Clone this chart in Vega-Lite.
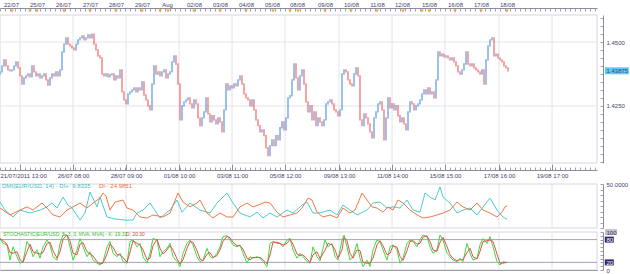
{
"$schema":"https://vega.github.io/schema/vega-lite/v6.json",
"width":597,"height":255,
"autosize":{"type":"none"},
"padding":{"left":0,"top":15,"right":33,"bottom":4},
"background":"#ffffff",
"config":{"view":{"stroke":null},"axis":{"labelFont":"Liberation Sans","labelFontSize":6,"labelColor":"#44446e","domainColor":"#8c8c9c","tickColor":"#a0a0ac","grid":false,"labelOverlap":false,"labelFlush":false,"labelBound":false},"text":{"font":"Liberation Sans"}},
"datasets":{
"price":[
{"t":0,"o":1.4375,"c":1.4383},{"t":2,"o":1.4383,"c":1.4407},{"t":4,"o":1.4407,"c":1.4430},{"t":6,"o":1.4430,"c":1.4407},{"t":8,"o":1.4407,"c":1.4391},{"t":10,"o":1.4391,"c":1.4387},{"t":12,"o":1.4387,"c":1.4391},{"t":14,"o":1.4391,"c":1.4407},{"t":16,"o":1.4407,"c":1.4422},{"t":18,"o":1.4422,"c":1.4399},
{"t":20,"o":1.4399,"c":1.4368},{"t":22,"o":1.4368,"c":1.4336},{"t":24,"o":1.4336,"c":1.4360},{"t":26,"o":1.4360,"c":1.4368},{"t":28,"o":1.4368,"c":1.4375},{"t":30,"o":1.4375,"c":1.4364},{"t":32,"o":1.4364,"c":1.4407},{"t":34,"o":1.4407,"c":1.4383},{"t":36,"o":1.4383,"c":1.4368},{"t":38,"o":1.4368,"c":1.4375},
{"t":40,"o":1.4375,"c":1.4360},{"t":42,"o":1.4360,"c":1.4368},{"t":44,"o":1.4368,"c":1.4375},{"t":46,"o":1.4375,"c":1.4352},{"t":48,"o":1.4352,"c":1.4332},{"t":50,"o":1.4332,"c":1.4360},{"t":52,"o":1.4360,"c":1.4375},{"t":54,"o":1.4375,"c":1.4368},{"t":56,"o":1.4368,"c":1.4383},{"t":58,"o":1.4383,"c":1.4368},
{"t":60,"o":1.4368,"c":1.4391},{"t":62,"o":1.4391,"c":1.4461},{"t":64,"o":1.4461,"c":1.4492},{"t":66,"o":1.4492,"c":1.4516},{"t":68,"o":1.4516,"c":1.4492},{"t":70,"o":1.4492,"c":1.4485},{"t":72,"o":1.4485,"c":1.4477},{"t":74,"o":1.4477,"c":1.4469},{"t":76,"o":1.4469,"c":1.4492},{"t":78,"o":1.4492,"c":1.4508},
{"t":80,"o":1.4508,"c":1.4516},{"t":82,"o":1.4516,"c":1.4524},{"t":84,"o":1.4524,"c":1.4508},{"t":86,"o":1.4508,"c":1.4516},{"t":88,"o":1.4516,"c":1.4528},{"t":90,"o":1.4528,"c":1.4516},{"t":92,"o":1.4516,"c":1.4531},{"t":94,"o":1.4531,"c":1.4492},{"t":96,"o":1.4492,"c":1.4469},{"t":98,"o":1.4469,"c":1.4446},
{"t":100,"o":1.4446,"c":1.4438},{"t":102,"o":1.4438,"c":1.4375},{"t":104,"o":1.4375,"c":1.4368},{"t":106,"o":1.4368,"c":1.4375},{"t":108,"o":1.4375,"c":1.4364},{"t":110,"o":1.4364,"c":1.4372},{"t":112,"o":1.4372,"c":1.4375},{"t":114,"o":1.4375,"c":1.4352},{"t":116,"o":1.4352,"c":1.4368},{"t":118,"o":1.4368,"c":1.4360},
{"t":120,"o":1.4360,"c":1.4391},{"t":122,"o":1.4391,"c":1.4305},{"t":124,"o":1.4305,"c":1.4274},{"t":126,"o":1.4274,"c":1.4258},{"t":128,"o":1.4258,"c":1.4297},{"t":130,"o":1.4297,"c":1.4305},{"t":132,"o":1.4305,"c":1.4313},{"t":134,"o":1.4313,"c":1.4321},{"t":136,"o":1.4321,"c":1.4305},{"t":138,"o":1.4305,"c":1.4321},
{"t":140,"o":1.4321,"c":1.4313},{"t":142,"o":1.4313,"c":1.4344},{"t":144,"o":1.4344,"c":1.4293},{"t":146,"o":1.4293,"c":1.4274},{"t":148,"o":1.4274,"c":1.4251},{"t":150,"o":1.4251,"c":1.4235},{"t":152,"o":1.4235,"c":1.4336},{"t":154,"o":1.4336,"c":1.4407},{"t":156,"o":1.4407,"c":1.4375},{"t":158,"o":1.4375,"c":1.4383},
{"t":160,"o":1.4383,"c":1.4368},{"t":162,"o":1.4368,"c":1.4383},{"t":164,"o":1.4383,"c":1.4391},{"t":166,"o":1.4391,"c":1.4360},{"t":168,"o":1.4360,"c":1.4375},{"t":170,"o":1.4375,"c":1.4383},{"t":172,"o":1.4383,"c":1.4422},{"t":174,"o":1.4422,"c":1.4446},{"t":176,"o":1.4446,"c":1.4414},{"t":178,"o":1.4414,"c":1.4336},
{"t":180,"o":1.4336,"c":1.4196},{"t":182,"o":1.4196,"c":1.4251},{"t":184,"o":1.4251,"c":1.4266},{"t":186,"o":1.4266,"c":1.4274},{"t":188,"o":1.4274,"c":1.4282},{"t":190,"o":1.4282,"c":1.4258},{"t":192,"o":1.4258,"c":1.4243},{"t":194,"o":1.4243,"c":1.4274},{"t":196,"o":1.4274,"c":1.4258},{"t":198,"o":1.4258,"c":1.4204},
{"t":200,"o":1.4204,"c":1.4173},{"t":202,"o":1.4173,"c":1.4204},{"t":204,"o":1.4204,"c":1.4227},{"t":206,"o":1.4227,"c":1.4282},{"t":208,"o":1.4282,"c":1.4219},{"t":210,"o":1.4219,"c":1.4188},{"t":212,"o":1.4188,"c":1.4212},{"t":214,"o":1.4212,"c":1.4196},{"t":216,"o":1.4196,"c":1.4180},{"t":218,"o":1.4180,"c":1.4204},
{"t":220,"o":1.4204,"c":1.4188},{"t":222,"o":1.4188,"c":1.4149},{"t":224,"o":1.4149,"c":1.4235},{"t":226,"o":1.4235,"c":1.4336},{"t":228,"o":1.4336,"c":1.4313},{"t":230,"o":1.4313,"c":1.4329},{"t":232,"o":1.4329,"c":1.4321},{"t":234,"o":1.4321,"c":1.4336},{"t":236,"o":1.4336,"c":1.4329},{"t":238,"o":1.4329,"c":1.4352},
{"t":240,"o":1.4352,"c":1.4368},{"t":242,"o":1.4368,"c":1.4336},{"t":244,"o":1.4336,"c":1.4297},{"t":246,"o":1.4297,"c":1.4282},{"t":248,"o":1.4282,"c":1.4274},{"t":250,"o":1.4274,"c":1.4251},{"t":252,"o":1.4251,"c":1.4274},{"t":254,"o":1.4274,"c":1.4235},{"t":256,"o":1.4235,"c":1.4196},{"t":258,"o":1.4196,"c":1.4173},
{"t":260,"o":1.4173,"c":1.4149},{"t":262,"o":1.4149,"c":1.4157},{"t":264,"o":1.4157,"c":1.4134},{"t":266,"o":1.4134,"c":1.4087},{"t":268,"o":1.4087,"c":1.4056},{"t":270,"o":1.4056,"c":1.4095},{"t":272,"o":1.4095,"c":1.4118},{"t":274,"o":1.4118,"c":1.4095},{"t":276,"o":1.4095,"c":1.4134},{"t":278,"o":1.4134,"c":1.4118},
{"t":280,"o":1.4118,"c":1.4165},{"t":282,"o":1.4165,"c":1.4188},{"t":284,"o":1.4188,"c":1.4157},{"t":286,"o":1.4157,"c":1.4204},{"t":288,"o":1.4204,"c":1.4282},{"t":290,"o":1.4282,"c":1.4290},{"t":292,"o":1.4290,"c":1.4352},{"t":294,"o":1.4352,"c":1.4414},{"t":296,"o":1.4414,"c":1.4360},{"t":298,"o":1.4360,"c":1.4313},
{"t":300,"o":1.4313,"c":1.4368},{"t":302,"o":1.4368,"c":1.4391},{"t":304,"o":1.4391,"c":1.4336},{"t":306,"o":1.4336,"c":1.4266},{"t":308,"o":1.4266,"c":1.4227},{"t":310,"o":1.4227,"c":1.4251},{"t":312,"o":1.4251,"c":1.4196},{"t":314,"o":1.4196,"c":1.4227},{"t":316,"o":1.4227,"c":1.4173},{"t":318,"o":1.4173,"c":1.4204},
{"t":320,"o":1.4204,"c":1.4188},{"t":322,"o":1.4188,"c":1.4173},{"t":324,"o":1.4173,"c":1.4196},{"t":326,"o":1.4196,"c":1.4258},{"t":328,"o":1.4258,"c":1.4266},{"t":330,"o":1.4266,"c":1.4274},{"t":332,"o":1.4274,"c":1.4258},{"t":334,"o":1.4258,"c":1.4235},{"t":336,"o":1.4235,"c":1.4227},{"t":338,"o":1.4227,"c":1.4212},
{"t":340,"o":1.4212,"c":1.4235},{"t":342,"o":1.4235,"c":1.4375},{"t":344,"o":1.4375,"c":1.4391},{"t":346,"o":1.4391,"c":1.4383},{"t":348,"o":1.4383,"c":1.4352},{"t":350,"o":1.4352,"c":1.4336},{"t":352,"o":1.4336,"c":1.4329},{"t":354,"o":1.4329,"c":1.4375},{"t":356,"o":1.4375,"c":1.4399},{"t":358,"o":1.4399,"c":1.4368},
{"t":360,"o":1.4368,"c":1.4196},{"t":362,"o":1.4196,"c":1.4173},{"t":364,"o":1.4173,"c":1.4219},{"t":366,"o":1.4219,"c":1.4204},{"t":368,"o":1.4204,"c":1.4180},{"t":370,"o":1.4180,"c":1.4149},{"t":372,"o":1.4149,"c":1.4126},{"t":374,"o":1.4126,"c":1.4204},{"t":376,"o":1.4204,"c":1.4227},{"t":378,"o":1.4227,"c":1.4258},
{"t":380,"o":1.4258,"c":1.4266},{"t":382,"o":1.4266,"c":1.4235},{"t":384,"o":1.4235,"c":1.4118},{"t":386,"o":1.4118,"c":1.4204},{"t":388,"o":1.4204,"c":1.4282},{"t":390,"o":1.4282,"c":1.4243},{"t":392,"o":1.4243,"c":1.4258},{"t":394,"o":1.4258,"c":1.4235},{"t":396,"o":1.4235,"c":1.4251},{"t":398,"o":1.4251,"c":1.4212},
{"t":400,"o":1.4212,"c":1.4188},{"t":402,"o":1.4188,"c":1.4204},{"t":404,"o":1.4204,"c":1.4180},{"t":406,"o":1.4180,"c":1.4157},{"t":408,"o":1.4157,"c":1.4227},{"t":410,"o":1.4227,"c":1.4266},{"t":412,"o":1.4266,"c":1.4258},{"t":414,"o":1.4258,"c":1.4235},{"t":416,"o":1.4235,"c":1.4251},{"t":418,"o":1.4251,"c":1.4258},
{"t":420,"o":1.4258,"c":1.4274},{"t":422,"o":1.4274,"c":1.4297},{"t":424,"o":1.4297,"c":1.4313},{"t":426,"o":1.4313,"c":1.4297},{"t":428,"o":1.4297,"c":1.4321},{"t":430,"o":1.4321,"c":1.4297},{"t":432,"o":1.4297,"c":1.4305},{"t":434,"o":1.4305,"c":1.4282},{"t":436,"o":1.4282,"c":1.4352},{"t":438,"o":1.4352,"c":1.4461},
{"t":440,"o":1.4461,"c":1.4446},{"t":442,"o":1.4446,"c":1.4453},{"t":444,"o":1.4453,"c":1.4442},{"t":446,"o":1.4442,"c":1.4446},{"t":448,"o":1.4446,"c":1.4438},{"t":450,"o":1.4438,"c":1.4430},{"t":452,"o":1.4430,"c":1.4438},{"t":454,"o":1.4438,"c":1.4422},{"t":456,"o":1.4422,"c":1.4407},{"t":458,"o":1.4407,"c":1.4383},
{"t":460,"o":1.4383,"c":1.4375},{"t":462,"o":1.4375,"c":1.4391},{"t":464,"o":1.4391,"c":1.4414},{"t":466,"o":1.4414,"c":1.4461},{"t":468,"o":1.4461,"c":1.4414},{"t":470,"o":1.4414,"c":1.4407},{"t":472,"o":1.4407,"c":1.4414},{"t":474,"o":1.4414,"c":1.4399},{"t":476,"o":1.4399,"c":1.4391},{"t":478,"o":1.4391,"c":1.4383},
{"t":480,"o":1.4383,"c":1.4375},{"t":482,"o":1.4375,"c":1.4391},{"t":484,"o":1.4391,"c":1.4336},{"t":486,"o":1.4336,"c":1.4430},{"t":488,"o":1.4430,"c":1.4485},{"t":490,"o":1.4485,"c":1.4508},{"t":492,"o":1.4508,"c":1.4516},{"t":494,"o":1.4516,"c":1.4446},{"t":496,"o":1.4446,"c":1.4453},{"t":498,"o":1.4453,"c":1.4438},
{"t":500,"o":1.4438,"c":1.4430},{"t":502,"o":1.4430,"c":1.4422},{"t":504,"o":1.4422,"c":1.4407},{"t":506,"o":1.4407,"c":1.4399},{"t":508,"o":1.4399,"c":1.43875}
],
"grid":[{"t":20},{"t":73},{"t":126},{"t":179},{"t":232},{"t":285},{"t":339},{"t":392},{"t":445},{"t":499},{"t":552}],
"days":[{"t":12},{"t":30},{"t":37},{"t":64},{"t":90},{"t":116},{"t":142},{"t":160},{"t":168},{"t":194},{"t":220},{"t":246},{"t":273},{"t":290},{"t":298},{"t":325},{"t":351},{"t":377},{"t":403},{"t":422},{"t":429},{"t":455},{"t":481},{"t":507}],
"dip":[{"t":0,"v":29.5},{"t":5,"v":20.4},{"t":13,"v":12.5},{"t":20,"v":20.4},{"t":30,"v":17},{"t":40,"v":20.4},{"t":47,"v":24},{"t":52,"v":28.4},{"t":57,"v":22.7},{"t":63,"v":35.2},{"t":68,"v":26},{"t":72,"v":22.7},{"t":80,"v":9},{"t":85,"v":17},{"t":90,"v":40.9},{"t":97,"v":24},{"t":100,"v":35.2},{"t":107,"v":12.5},{"t":115,"v":10.2},{"t":125,"v":9},{"t":133,"v":9},{"t":137,"v":17},{"t":143,"v":20.4},{"t":150,"v":28.4},{"t":160,"v":11.4},{"t":170,"v":20.4},{"t":177,"v":31.8},{"t":182,"v":18},{"t":190,"v":28.4},{"t":200,"v":20.4},{"t":210,"v":17},{"t":217,"v":28.4},{"t":227,"v":39.8},{"t":233,"v":28.4},{"t":240,"v":17},{"t":250,"v":12.5},{"t":257,"v":18},{"t":263,"v":11.4},{"t":270,"v":17},{"t":277,"v":12.5},{"t":287,"v":20.4},{"t":293,"v":17},{"t":302,"v":26},{"t":307,"v":29.5},{"t":313,"v":17},{"t":317,"v":17},{"t":323,"v":18},{"t":330,"v":20.4},{"t":337,"v":14.8},{"t":343,"v":26},{"t":350,"v":20.4},{"t":357,"v":14.8},{"t":367,"v":20.4},{"t":373,"v":28.4},{"t":380,"v":29.5},{"t":387,"v":22.7},{"t":393,"v":24},{"t":400,"v":22.7},{"t":407,"v":31.8},{"t":413,"v":20.4},{"t":420,"v":18},{"t":425,"v":39.8},{"t":430,"v":35.2},{"t":435,"v":31.8},{"t":440,"v":46.6},{"t":443,"v":35.2},{"t":450,"v":28.4},{"t":457,"v":17},{"t":463,"v":20.4},{"t":470,"v":22.7},{"t":477,"v":14.8},{"t":483,"v":24},{"t":490,"v":34},{"t":497,"v":20.4},{"t":503,"v":12.5},{"t":507,"v":9.8}],
"dim":[{"t":0,"v":22.7},{"t":10,"v":14.8},{"t":20,"v":20.4},{"t":27,"v":24},{"t":33,"v":20.4},{"t":42,"v":28.4},{"t":47,"v":22.7},{"t":53,"v":14.8},{"t":60,"v":12.5},{"t":67,"v":20.4},{"t":73,"v":24},{"t":80,"v":28.4},{"t":87,"v":22.7},{"t":93,"v":28.4},{"t":100,"v":34},{"t":103,"v":39.8},{"t":106,"v":36.4},{"t":110,"v":20.4},{"t":115,"v":29.5},{"t":123,"v":31.8},{"t":127,"v":22.7},{"t":133,"v":20.4},{"t":140,"v":12.5},{"t":147,"v":11.4},{"t":153,"v":14.8},{"t":163,"v":12.5},{"t":170,"v":17},{"t":178,"v":39.8},{"t":183,"v":29.5},{"t":190,"v":24},{"t":197,"v":28.4},{"t":200,"v":31.8},{"t":207,"v":17},{"t":213,"v":11.4},{"t":220,"v":17},{"t":227,"v":12.5},{"t":233,"v":12.5},{"t":240,"v":24},{"t":247,"v":28.4},{"t":253,"v":24},{"t":258,"v":26},{"t":265,"v":29.5},{"t":270,"v":28.4},{"t":277,"v":18},{"t":283,"v":12.5},{"t":290,"v":14.8},{"t":297,"v":17},{"t":302,"v":22.7},{"t":308,"v":34},{"t":312,"v":31.8},{"t":317,"v":18},{"t":323,"v":12.5},{"t":330,"v":14.8},{"t":337,"v":11.4},{"t":343,"v":22.7},{"t":350,"v":17},{"t":355,"v":20.4},{"t":360,"v":34},{"t":362,"v":39.8},{"t":367,"v":31.8},{"t":372,"v":24},{"t":377,"v":22.7},{"t":383,"v":18},{"t":388,"v":24},{"t":393,"v":20.4},{"t":398,"v":31.8},{"t":403,"v":28.4},{"t":410,"v":20.4},{"t":417,"v":14.8},{"t":423,"v":11.4},{"t":430,"v":12.5},{"t":437,"v":14.8},{"t":443,"v":17},{"t":450,"v":20.4},{"t":457,"v":29.5},{"t":463,"v":24},{"t":470,"v":20.4},{"t":477,"v":28.4},{"t":483,"v":20.4},{"t":490,"v":17},{"t":497,"v":12.5},{"t":502,"v":18},{"t":505,"v":24},{"t":507,"v":25}],
"stoch":[{"t":0,"k":83,"d":83},{"t":3,"k":70,"d":77},{"t":7,"k":66,"d":68},{"t":10,"k":26,"d":46},{"t":13,"k":61,"d":44},{"t":17,"k":35,"d":48},{"t":20,"k":18,"d":27},{"t":23,"k":22,"d":20},{"t":27,"k":75,"d":49},{"t":30,"k":61,"d":68},{"t":33,"k":35,"d":48},{"t":37,"k":53,"d":44},{"t":40,"k":31,"d":42},{"t":43,"k":61,"d":46},{"t":47,"k":79,"d":70},{"t":50,"k":66,"d":73},{"t":53,"k":35,"d":51},{"t":57,"k":26,"d":31},{"t":60,"k":70,"d":48},{"t":63,"k":92,"d":81},{"t":67,"k":92,"d":92},{"t":70,"k":61,"d":77},{"t":73,"k":26,"d":44},{"t":77,"k":53,"d":40},{"t":80,"k":83,"d":68},{"t":83,"k":61,"d":72},{"t":87,"k":35,"d":48},{"t":90,"k":48,"d":42},{"t":93,"k":26,"d":37},{"t":97,"k":18,"d":22},{"t":100,"k":13,"d":16},{"t":103,"k":22,"d":18},{"t":107,"k":61,"d":42},{"t":110,"k":75,"d":68},{"t":113,"k":44,"d":60},{"t":117,"k":35,"d":40},{"t":120,"k":44,"d":40},{"t":123,"k":22,"d":33},{"t":127,"k":18,"d":20},{"t":130,"k":75,"d":47},{"t":133,"k":79,"d":77},{"t":137,"k":61,"d":70},{"t":140,"k":70,"d":66},{"t":143,"k":35,"d":53},{"t":147,"k":18,"d":27},{"t":150,"k":44,"d":31},{"t":153,"k":83,"d":64},{"t":157,"k":79,"d":81},{"t":160,"k":35,"d":57},{"t":163,"k":48,"d":42},{"t":167,"k":57,"d":53},{"t":170,"k":70,"d":64},{"t":173,"k":35,"d":53},{"t":177,"k":22,"d":29},{"t":180,"k":9,"d":16},{"t":183,"k":44,"d":27},{"t":187,"k":70,"d":57},{"t":190,"k":79,"d":75},{"t":193,"k":66,"d":73},{"t":197,"k":35,"d":51},{"t":200,"k":22,"d":29},{"t":203,"k":26,"d":24},{"t":207,"k":57,"d":42},{"t":210,"k":35,"d":46},{"t":213,"k":31,"d":33},{"t":217,"k":44,"d":38},{"t":220,"k":61,"d":53},{"t":223,"k":88,"d":75},{"t":227,"k":90,"d":89},{"t":230,"k":79,"d":85},{"t":233,"k":66,"d":73},{"t":237,"k":61,"d":64},{"t":240,"k":66,"d":64},{"t":243,"k":44,"d":55},{"t":247,"k":18,"d":31},{"t":250,"k":35,"d":27},{"t":253,"k":31,"d":33},{"t":257,"k":35,"d":33},{"t":260,"k":31,"d":33},{"t":263,"k":22,"d":27},{"t":267,"k":9,"d":16},{"t":270,"k":70,"d":40},{"t":273,"k":75,"d":73},{"t":277,"k":70,"d":73},{"t":280,"k":70,"d":70},{"t":283,"k":61,"d":66},{"t":287,"k":79,"d":70},{"t":290,"k":83,"d":81},{"t":293,"k":53,"d":68},{"t":297,"k":31,"d":42},{"t":300,"k":44,"d":38},{"t":303,"k":35,"d":40},{"t":307,"k":22,"d":29},{"t":310,"k":18,"d":20},{"t":313,"k":61,"d":40},{"t":317,"k":35,"d":48},{"t":320,"k":24,"d":30},{"t":325,"k":79,"d":52},{"t":328,"k":61,"d":70},{"t":332,"k":70,"d":66},{"t":335,"k":35,"d":53},{"t":338,"k":26,"d":31},{"t":342,"k":79,"d":53},{"t":344,"k":92,"d":86},{"t":347,"k":61,"d":77},{"t":350,"k":26,"d":44},{"t":353,"k":35,"d":31},{"t":357,"k":70,"d":53},{"t":360,"k":31,"d":51},{"t":363,"k":9,"d":20},{"t":367,"k":26,"d":18},{"t":370,"k":9,"d":18},{"t":373,"k":53,"d":31},{"t":377,"k":79,"d":66},{"t":380,"k":75,"d":77},{"t":383,"k":53,"d":64},{"t":387,"k":26,"d":40},{"t":390,"k":61,"d":44},{"t":393,"k":66,"d":64},{"t":397,"k":53,"d":60},{"t":400,"k":18,"d":36},{"t":403,"k":31,"d":25},{"t":407,"k":70,"d":51},{"t":410,"k":79,"d":75},{"t":413,"k":75,"d":77},{"t":417,"k":61,"d":68},{"t":420,"k":79,"d":70},{"t":423,"k":92,"d":86},{"t":427,"k":88,"d":90},{"t":430,"k":61,"d":75},{"t":433,"k":44,"d":53},{"t":437,"k":53,"d":49},{"t":440,"k":92,"d":73},{"t":443,"k":79,"d":86},{"t":447,"k":44,"d":62},{"t":450,"k":35,"d":40},{"t":453,"k":26,"d":31},{"t":457,"k":22,"d":24},{"t":460,"k":31,"d":27},{"t":463,"k":22,"d":27},{"t":467,"k":70,"d":46},{"t":470,"k":44,"d":57},{"t":473,"k":26,"d":35},{"t":477,"k":31,"d":29},{"t":480,"k":66,"d":49},{"t":483,"k":83,"d":75},{"t":487,"k":70,"d":77},{"t":490,"k":88,"d":79},{"t":493,"k":61,"d":75},{"t":497,"k":22,"d":42},{"t":500,"k":13,"d":18},{"t":503,"k":22,"d":18},{"t":507,"k":19.31,"d":20.3}]
},
"layer":[
{"data":{"values":[{"panel":"price"}]},"mark":{"type":"rect","fill":"#ffffff","stroke":"#d6d6de","strokeWidth":1},
 "encoding":{"x":{"datum":0,"type":"quantitative","scale":{"domain":[0,597],"nice":false,"zero":false},"axis":null},"x2":{"datum":597},
 "y":{"datum":1.402734,"type":"quantitative","scale":{"domain":[1.402734,1.460547],"range":[148,0],"nice":false,"zero":false},"axis":null},"y2":{"datum":1.460547}}},
{"data":{"name":"grid"},"mark":{"type":"rule","color":"#e4e4ec","strokeWidth":1},
 "encoding":{"x":{"field":"t","type":"quantitative","scale":{"domain":[0,597],"nice":false,"zero":false},
  "axis":{"orient":"bottom","offset":-100,"values":[20,73,126,179,232,285,339,392,445,499,552],"ticks":false,"domain":false,"labelPadding":2,"title":null,
   "labelExpr":"['21/07/2011 13:00','26/07 08:00','28/07 09:00','01/08 10:00','03/08 11:00','05/08 12:00','09/08 13:00','11/08 14:00','15/08 15:00','17/08 16:00','19/08 17:00'][indexof([20,73,126,179,232,285,339,392,445,499,552], datum.value)]",
   "labelAlign":{"condition":{"test":"datum.value == 20","value":"left"},"value":"center"},
   "labelOffset":{"condition":{"test":"datum.value == 20","value":-20},"value":0}}},
 "y":{"datum":1.402734,"type":"quantitative","scale":{"domain":[1.402734,1.460547],"range":[148,0],"nice":false,"zero":false},"axis":null},"y2":{"datum":1.460547}}},
{"data":{"values":[{"v":1.425},{"v":1.45}]},"mark":{"type":"rule","color":"#e4e4ec","strokeWidth":1},
 "encoding":{"x":{"datum":0,"type":"quantitative","scale":{"domain":[0,597],"nice":false,"zero":false},"axis":null},"x2":{"datum":597},
 "y":{"field":"v","type":"quantitative","scale":{"domain":[1.402734,1.460547],"range":[148,0],"nice":false,"zero":false},
  "axis":{"orient":"right","offset":6,"values":[1.425,1.43875,1.45],"ticks":false,"domain":true,"labelPadding":3,"zindex":1,"title":null,"labelBaseline":"middle",
   "labelExpr":"datum.value == 1.425 ? '1.4250' : datum.value == 1.45 ? '1.4500' : '1.43875'"}}}},
{"data":{"name":"price"},"mark":{"type":"rule","strokeWidth":1.3,"strokeCap":"square","opacity":0.95},
 "encoding":{"x":{"field":"t","type":"quantitative","scale":{"domain":[0,597],"nice":false,"zero":false},
  "axis":{"orient":"top","offset":7,"tickCount":120,"labels":false,"domain":true,"tickSize":-3,"title":null}},
 "y":{"field":"o","type":"quantitative","scale":{"domain":[1.402734,1.460547],"range":[148,0],"nice":false,"zero":false},
  "axis":{"orient":"right","offset":6,"values":[1.403125,1.40625,1.409375,1.4125,1.415625,1.41875,1.421875,1.425,1.428125,1.43125,1.434375,1.4375,1.440625,1.44375,1.446875,1.45,1.453125,1.45625,1.459375],"labels":false,"domain":false,"tickSize":-3,"title":null}},
 "y2":{"field":"c"},
 "color":{"condition":{"test":"datum.c >= datum.o","value":"#5b9ae0"},"value":"#f06a6a"}}},
{"data":{"values":[{"v":1.43875}]},"mark":{"type":"tick","orient":"horizontal","size":24,"thickness":7,"color":"#5ccaf4","opacity":1},
 "encoding":{"x":{"datum":616.8,"type":"quantitative","scale":{"domain":[0,597],"nice":false,"zero":false},"axis":null},
 "y":{"field":"v","type":"quantitative","scale":{"domain":[1.402734,1.460547],"range":[148,0],"nice":false,"zero":false},"axis":null}}},
{"data":{"name":"days"},"mark":{"type":"point","shape":"triangle-down","filled":true,"size":14,"color":"#f2a22a","opacity":1},
 "encoding":{"x":{"field":"t","type":"quantitative","scale":{"domain":[0,597],"nice":false,"zero":false},
  "axis":{"orient":"top","offset":7,"values":[11,37,63,90,116,142,167,194,220,246,272,297,325,351,377,402,429,455,481,507],"ticks":false,"domain":false,"labelPadding":1,"title":null,
   "labelExpr":"['22/07','25/07','26/07','27/07','28/07','29/07','Aug','02/08','03/08','04/08','05/08','08/08','09/08','10/08','11/08','12/08','15/08','16/08','17/08','18/08'][indexof([11,37,63,90,116,142,167,194,220,246,272,297,325,351,377,402,429,455,481,507], datum.value)]"}},
 "y":{"datum":1.46211,"type":"quantitative","scale":{"domain":[1.402734,1.460547],"range":[148,0],"nice":false,"zero":false},"axis":null}}},
{"data":{"values":[{"panel":"dmi"}]},"mark":{"type":"rect","fill":"#ffffff","stroke":"#d6d6de","strokeWidth":1},
 "encoding":{"x":{"datum":0,"type":"quantitative","scale":{"domain":[0,597],"nice":false,"zero":false},"axis":null},"x2":{"datum":597},
 "y":{"datum":0,"type":"quantitative","scale":{"domain":[0,50],"range":[213,169],"nice":false,"zero":false},"axis":null},"y2":{"datum":50}}},
{"data":{"name":"grid"},"mark":{"type":"rule","color":"#e4e4ec","strokeWidth":1},
 "encoding":{"x":{"field":"t","type":"quantitative","scale":{"domain":[0,597],"nice":false,"zero":false},
  "axis":{"orient":"bottom","offset":-100,"tickCount":120,"labels":false,"domain":true,"tickSize":-3,"title":null}},
 "y":{"datum":0,"type":"quantitative","scale":{"domain":[0,50],"range":[213,169],"nice":false,"zero":false},"axis":null},"y2":{"datum":50}}},
{"data":{"name":"dip"},"mark":{"type":"line","color":"#4ccccc","strokeWidth":1},
 "encoding":{"x":{"field":"t","type":"quantitative","scale":{"domain":[0,597],"nice":false,"zero":false},
  "axis":{"orient":"bottom","offset":-100,"values":[20,73,126,179,232,285,339,392,445,499,552],"labels":false,"domain":false,"tickSize":-6,"tickColor":"#8c8c9c","title":null}},
 "y":{"field":"v","type":"quantitative","scale":{"domain":[0,50],"range":[213,169],"nice":false,"zero":false},
  "axis":{"orient":"right","offset":6,"values":[50],"ticks":false,"domain":true,"labelPadding":3,"labelBaseline":"middle","labelExpr":"'50.0000'","title":null}}}},
{"data":{"name":"dim"},"mark":{"type":"line","color":"#f07848","strokeWidth":1},
 "encoding":{"x":{"field":"t","type":"quantitative","scale":{"domain":[0,597],"nice":false,"zero":false},"axis":null},
 "y":{"field":"v","type":"quantitative","scale":{"domain":[0,50],"range":[213,169],"nice":false,"zero":false},
  "axis":{"orient":"right","offset":6,"values":[0,6.25,12.5,18.75,25,31.25,37.5,43.75,50],"labels":false,"domain":false,"tickSize":-3,"title":null}}}},
{"data":{"values":[{"label":"DMI(EUR/USD, 14) - DI+: 9.8335"}]},"mark":{"type":"text","align":"left","baseline":"middle","fontSize":6,"color":"#3cc0c0"},
 "encoding":{"x":{"datum":2,"type":"quantitative","scale":{"domain":[0,597],"nice":false,"zero":false},"axis":null},
 "y":{"datum":47.2,"type":"quantitative","scale":{"domain":[0,50],"range":[213,169],"nice":false,"zero":false},"axis":null},"text":{"field":"label"}}},
{"data":{"values":[{"label":"DI-: 24.9851"}]},"mark":{"type":"text","align":"left","baseline":"middle","fontSize":6,"color":"#f06a3a"},
 "encoding":{"x":{"datum":99,"type":"quantitative","scale":{"domain":[0,597],"nice":false,"zero":false},"axis":null},
 "y":{"datum":47.2,"type":"quantitative","scale":{"domain":[0,50],"range":[213,169],"nice":false,"zero":false},"axis":null},"text":{"field":"label"}}},
{"data":{"values":[{"panel":"stoch"}]},"mark":{"type":"rect","fill":"#ffffff","stroke":"#d6d6de","strokeWidth":1},
 "encoding":{"x":{"datum":0,"type":"quantitative","scale":{"domain":[0,597],"nice":false,"zero":false},"axis":null},"x2":{"datum":597},
 "y":{"datum":0,"type":"quantitative","scale":{"domain":[0,100],"range":[255,217],"nice":false,"zero":false},"axis":null},"y2":{"datum":100}}},
{"data":{"name":"grid"},"mark":{"type":"rule","color":"#e4e4ec","strokeWidth":1},
 "encoding":{"x":{"field":"t","type":"quantitative","scale":{"domain":[0,597],"nice":false,"zero":false},
  "axis":{"orient":"bottom","offset":0,"ticks":false,"labels":false,"domain":true,"domainColor":"#606070","title":null}},
 "y":{"datum":0,"type":"quantitative","scale":{"domain":[0,100],"range":[255,217],"nice":false,"zero":false},"axis":null},"y2":{"datum":100}}},
{"data":{"values":[{"v":80},{"v":20}]},"mark":{"type":"rule","color":"#a4a4b8","strokeWidth":1},
 "encoding":{"x":{"datum":0,"type":"quantitative","scale":{"domain":[0,597],"nice":false,"zero":false},"axis":null},"x2":{"datum":597},
 "y":{"field":"v","type":"quantitative","scale":{"domain":[0,100],"range":[255,217],"nice":false,"zero":false},
  "axis":{"orient":"right","offset":6,"values":[0,20,80,100],"ticks":false,"domain":true,"labelPadding":3,"labelBaseline":"middle","zindex":1,"title":null,
   "labelColor":{"condition":{"test":"datum.value == 80 || datum.value == 20","value":"#ffffff"},"value":"#33335a"}}}}},
{"data":{"name":"stoch"},"mark":{"type":"line","color":"#3edc3e","strokeWidth":1},
 "encoding":{"x":{"field":"t","type":"quantitative","scale":{"domain":[0,597],"nice":false,"zero":false},"axis":null},
 "y":{"field":"k","type":"quantitative","scale":{"domain":[0,100],"range":[255,217],"nice":false,"zero":false},
  "axis":{"orient":"right","offset":6,"values":[0,10,20,30,40,50,60,70,80,90,100],"labels":false,"domain":false,"tickSize":-3,"title":null}}}},
{"data":{"name":"stoch"},"mark":{"type":"line","color":"#e25050","strokeWidth":1},
 "encoding":{"x":{"field":"t","type":"quantitative","scale":{"domain":[0,597],"nice":false,"zero":false},"axis":null},
 "y":{"field":"d","type":"quantitative","scale":{"domain":[0,100],"range":[255,217],"nice":false,"zero":false},"axis":null}}},
{"data":{"values":[{"v":100}]},"mark":{"type":"tick","orient":"horizontal","size":12,"thickness":6,"color":"#c4c4ca","opacity":1},
 "encoding":{"x":{"datum":611,"type":"quantitative","scale":{"domain":[0,597],"nice":false,"zero":false},"axis":null},
 "y":{"field":"v","type":"quantitative","scale":{"domain":[0,100],"range":[255,217],"nice":false,"zero":false},"axis":null}}},
{"data":{"values":[{"v":80},{"v":20}]},"mark":{"type":"tick","orient":"horizontal","size":9,"thickness":6,"color":"#2c2c6c","opacity":1},
 "encoding":{"x":{"datum":609.3,"type":"quantitative","scale":{"domain":[0,597],"nice":false,"zero":false},"axis":null},
 "y":{"field":"v","type":"quantitative","scale":{"domain":[0,100],"range":[255,217],"nice":false,"zero":false},"axis":null}}},
{"data":{"values":[{"label":"STOCHASTIC(EUR/USD, 5, 3, 3, MVA, MVA) - K: 19.31"}]},"mark":{"type":"text","align":"left","baseline":"middle","fontSize":5,"color":"#34c034"},
 "encoding":{"x":{"datum":3,"type":"quantitative","scale":{"domain":[0,597],"nice":false,"zero":false},"axis":null},
 "y":{"datum":95,"type":"quantitative","scale":{"domain":[0,100],"range":[255,217],"nice":false,"zero":false},"axis":null},"text":{"field":"label"}}},
{"data":{"values":[{"label":"D: 20.30"}]},"mark":{"type":"text","align":"left","baseline":"middle","fontSize":5,"color":"#e04040"},
 "encoding":{"x":{"datum":126,"type":"quantitative","scale":{"domain":[0,597],"nice":false,"zero":false},"axis":null},
 "y":{"datum":95,"type":"quantitative","scale":{"domain":[0,100],"range":[255,217],"nice":false,"zero":false},"axis":null},"text":{"field":"label"}}}
],
"resolve":{"scale":{"y":"independent"},"axis":{"x":"independent","y":"independent"}}
}
